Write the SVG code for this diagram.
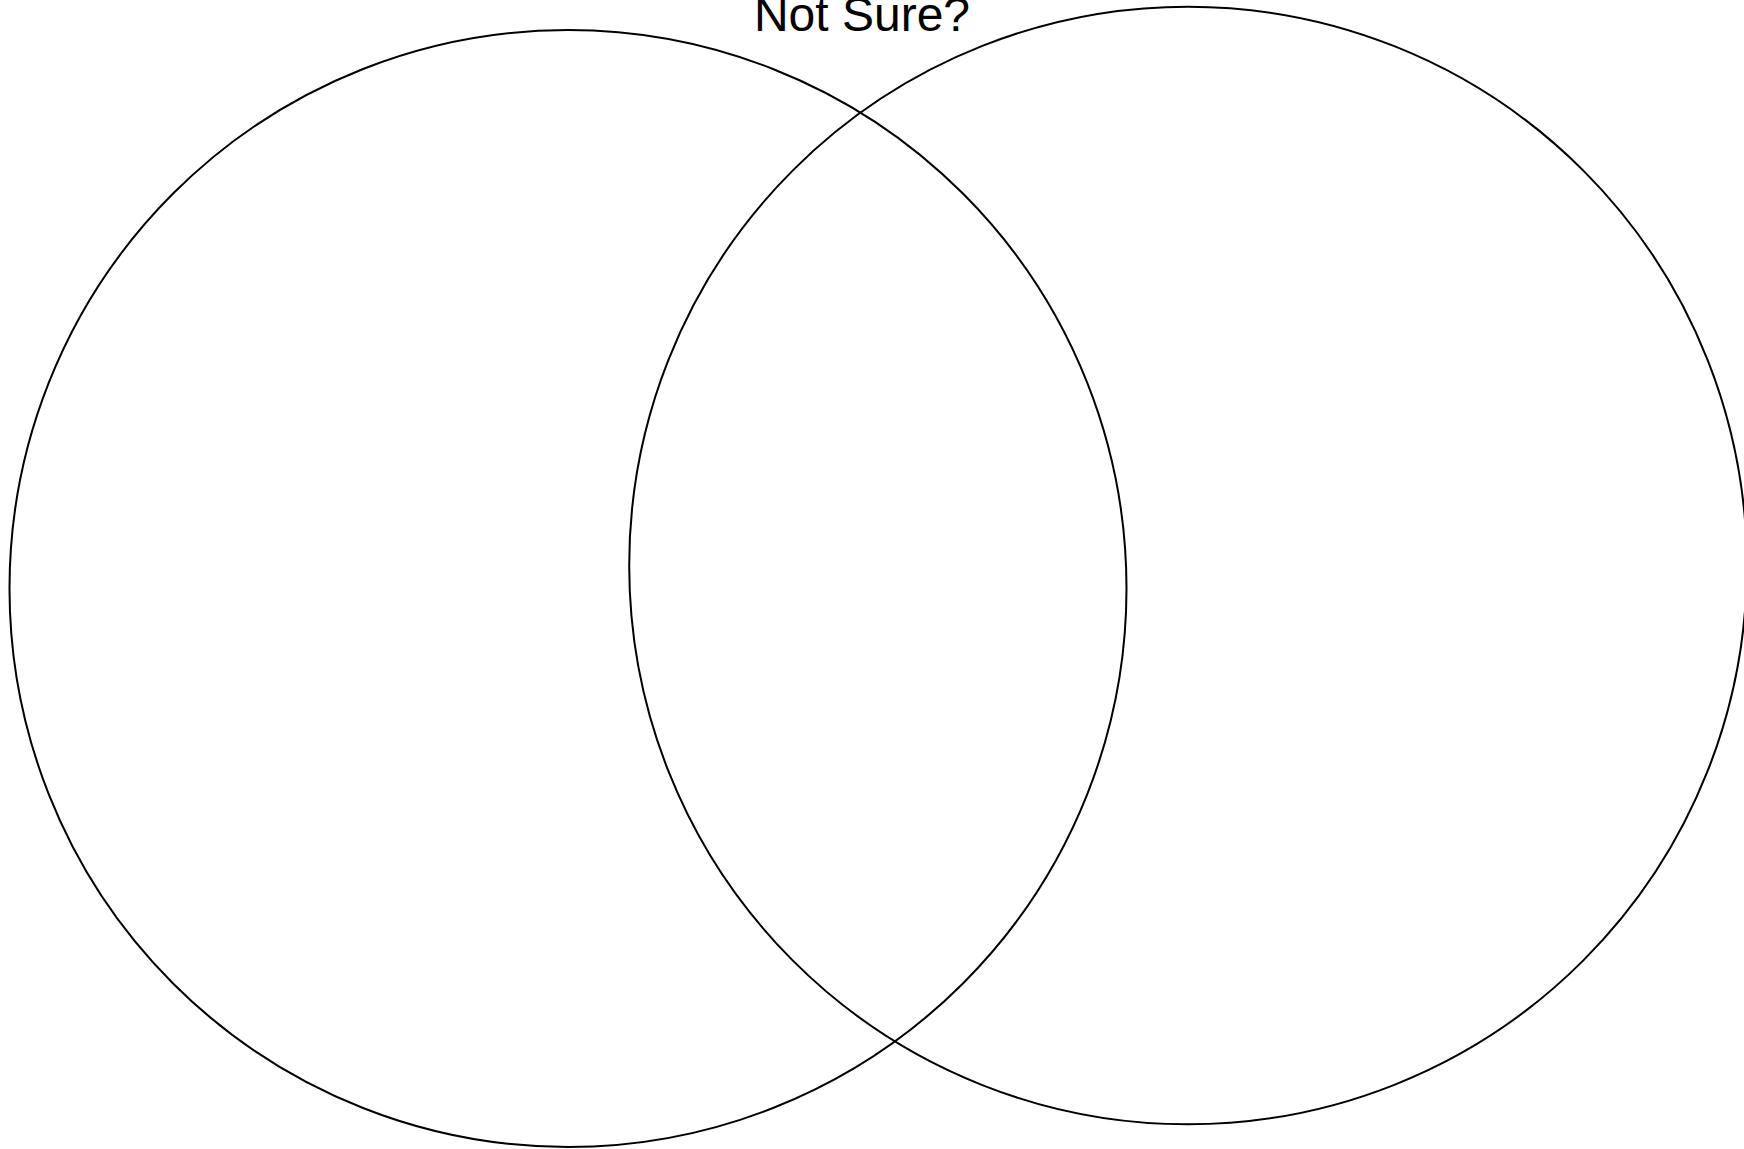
<svg xmlns="http://www.w3.org/2000/svg" width="1744" height="1149" viewBox="0 0 1744 1149">
<style>
.c{fill:none;stroke:#000;stroke-width:2}
.t{font-family:"Liberation Sans",Arial,sans-serif;font-size:48px;fill:#000;text-anchor:middle}
</style>
<rect width="1744" height="1149" fill="#fff"/>
<g id="left-circle"><circle class="c" cx="568" cy="588.5" r="558.5"/></g>
<g id="right-circle"><circle class="c" cx="1188" cy="565.5" r="558.8"/></g>
<g id="title"><text class="t" x="862" y="31">Not Sure?</text></g>
<g id="connectors"></g>
</svg>
